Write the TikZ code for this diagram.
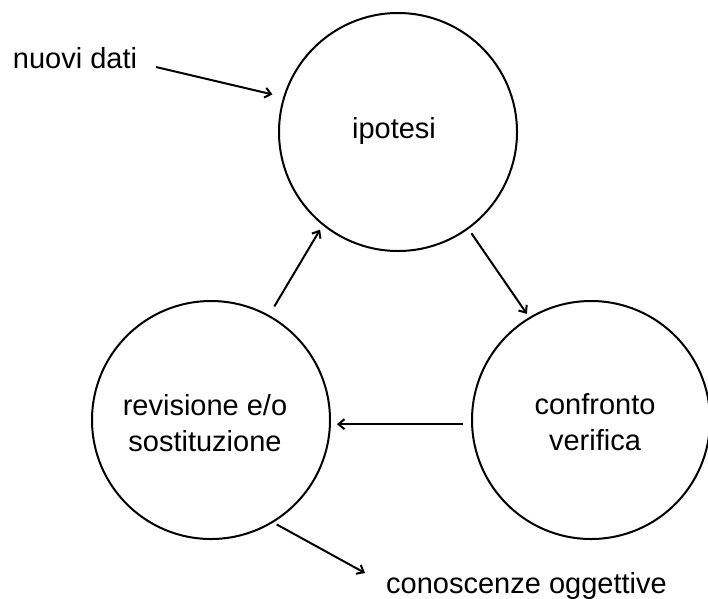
\documentclass[tikz,border=0pt]{standalone}
\usepackage{fontspec}
\setmainfont{Liberation Sans}
\usetikzlibrary{arrows.meta}
\begin{document}
\begin{tikzpicture}[x=1pt,y=-1pt,
  circ/.style={circle,draw,line width=2pt,minimum size=238pt,inner sep=0pt,outer sep=0pt},
  txt/.style={font=\fontsize{29}{36}\selectfont,inner sep=0pt,align=center,text=black},
  arr/.style={line width=2pt,-{Straight Barb[length=6pt,width=10pt]}}]
\useasboundingbox (0,0) rectangle (708,598);
\node[circ] (ip) at (398,132) {};
\node[circ] (cv) at (591,420) {};
\node[circ] (rv) at (211,420) {};
\node[txt,anchor=base] (ipt) at (394,138) {ipotesi};
\node[txt,anchor=base] (cvt) at (595,450) {confronto\\verifica};
\node[txt,anchor=base] (rvt) at (205,451) {revisione e/o\\sostituzione};
\node[txt,anchor=base] (nd) at (75,68) {nuovi dati};
\node[txt,anchor=base] (ck) at (526.5,593) {conoscenze oggettive};
\coordinate (nds) at (156,67);
\coordinate (cke) at (365,573);
\draw[arr,shorten >=12pt] (nds) -- (ip.163.6);
\draw[arr,shorten <=6pt,shorten >=5pt] (ip.-54.4) -- (cv.121.1);
\draw[arr,shorten <=9pt,shorten >=7pt] (cv.182.4) -- (rv.-2.4);
\draw[arr,shorten <=11pt,shorten >=6pt] (rv.61.1) -- (ip.231.5);
\draw[arr,shorten <=5pt] (rv.-59.9) -- (cke);
\end{tikzpicture}
\end{document}
